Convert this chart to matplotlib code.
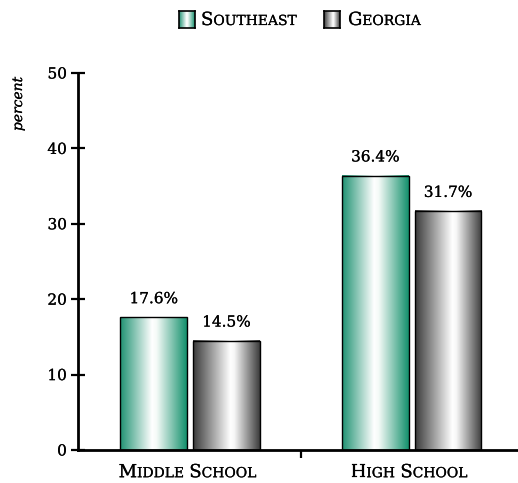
import numpy as np
import matplotlib
matplotlib.use("Agg")
import matplotlib.pyplot as plt
import matplotlib.patheffects as pe
from matplotlib.colors import LinearSegmentedColormap
from matplotlib.offsetbox import TextArea, HPacker, AnnotationBbox

# data
groups = ["Middle School", "High School"]
series = ["Southeast", "Georgia"]
southeast = [17.6, 36.4]
georgia = [14.5, 31.7]

SERIF = "DejaVu Serif"
plt.rcParams["font.family"] = SERIF
# slightly heavier strokes on all text
heavy = [pe.withStroke(linewidth=0.15, foreground="black")]

# cylinder-like gradients for the bars
green_cmap = LinearSegmentedColormap.from_list(
    "green", [(0, "#1f9272"), (0.48, "#ffffff"), (0.55, "#f4faf7"), (1, "#13906c")])
gray_cmap = LinearSegmentedColormap.from_list(
    "gray", [(0, "#3a3a3a"), (0.56, "#ffffff"), (0.62, "#f6f6f6"), (1, "#3c3c3c")])
grad = np.linspace(0, 1, 256).reshape(1, -1)


def small_caps(text, big, small, sep=4):
    words = []
    for w in text.split():
        parts = [TextArea(w[0].upper(), textprops=dict(fontsize=big, family=SERIF, path_effects=heavy)),
                 TextArea(w[1:].upper(), textprops=dict(fontsize=small, family=SERIF, path_effects=heavy))]
        words.append(HPacker(children=parts, align="baseline", pad=0, sep=0))
    return HPacker(children=words, align="baseline", pad=0, sep=sep)


fig = plt.figure(figsize=(5.18, 4.83), dpi=100)
ax = fig.add_axes([78 / 518, 33 / 483, 440 / 518, 377 / 483])

x = np.arange(len(groups))
width = 0.302
off = 0.164
bars1 = ax.bar(x - off, southeast, width, facecolor="none", edgecolor="black", linewidth=1.0, zorder=3)
bars2 = ax.bar(x + off, georgia, width, facecolor="none", edgecolor="black", linewidth=1.0, zorder=3)

for bars, cmap, vals in [(bars1, green_cmap, southeast), (bars2, gray_cmap, georgia)]:
    for b, v in zip(bars, vals):
        x0, w, h = b.get_x(), b.get_width(), b.get_height()
        ax.imshow(grad, cmap=cmap, aspect="auto", extent=(x0, x0 + w, 0, h), zorder=2)
        ax.annotate(f"{v:.1f}%", (x0 + w / 2, h), xytext=(0, 8), textcoords="offset points",
                    ha="center", va="bottom", fontsize=11, path_effects=heavy)

ax.set_xlim(-0.506, 1.48)
ax.set_ylim(0, 50)
ax.set_yticks([0, 10, 20, 30, 40, 50])
ax.set_xticks([0.5])
ax.set_xticklabels([""])
ax.tick_params(axis="y", direction="inout", length=10, width=1.6, labelsize=11, pad=3)
ax.tick_params(axis="x", direction="out", length=6, width=1.6)
for lbl in ax.get_yticklabels():
    lbl.set_path_effects(heavy)
for s in ["top", "right"]:
    ax.spines[s].set_visible(False)
for s in ["left", "bottom"]:
    ax.spines[s].set_linewidth(2)

# group labels in small caps
for i, g in enumerate(groups):
    box = small_caps(g, 13, 10)
    ab = AnnotationBbox(box, (i, 0), xycoords=("data", "axes fraction"), xybox=(-2, -16),
                        boxcoords="offset points", frameon=False, box_alignment=(0.5, 0.5))
    ax.add_artist(ab)

fig.text(18 / 518, 1 - 104 / 483, "percent", rotation=90, style="italic", fontsize=10,
         ha="center", va="center", path_effects=heavy)

# legend
swatches = [(179, green_cmap, series[0], 201), (324, gray_cmap, series[1], 348)]
for sx, cmap, label, tx in swatches:
    sax = fig.add_axes([sx / 518, 1 - 28 / 483, 16 / 518, 17 / 483])
    sax.imshow(grad, cmap=cmap, aspect="auto")
    sax.set_xticks([])
    sax.set_yticks([])
    for sp in sax.spines.values():
        sp.set_linewidth(1.2)
    ab = AnnotationBbox(small_caps(label, 13, 10), (tx / 518, 1 - 20 / 483),
                        xycoords="figure fraction", frameon=False, box_alignment=(0, 0.5))
    fig.add_artist(ab)

fig.savefig("out.png", dpi=100)
